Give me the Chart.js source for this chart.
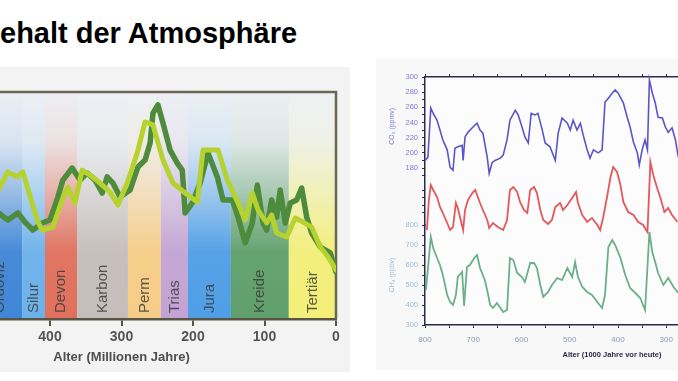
<!DOCTYPE html>
<html><head><meta charset="utf-8">
<script src="https://cdn.jsdelivr.net/npm/chart.js@4"></script>
<style>
html,body{margin:0;padding:0;width:678px;height:381px;overflow:hidden;background:#fff;font-family:"Liberation Sans",Arial,sans-serif;}
#title{position:absolute;left:0;top:17px;font-weight:bold;font-size:29px;line-height:32px;color:#000;white-space:nowrap;}
#leftbg{position:absolute;left:0;top:67px;width:350px;height:305px;background:#f3f3f3;}
#rightbg{position:absolute;left:376px;top:58px;width:302px;height:312px;background:#f8f8f8;}
#lwrap{position:absolute;left:-93px;top:90px;width:435px;height:281px;}
#rwrap{position:absolute;left:385px;top:71px;width:419px;height:299px;}
</style></head>
<body>
<div id="title">ehalt der Atmosphäre</div>
<div id="leftbg"></div>
<div id="rightbg"></div>
<div id="lwrap"><canvas id="left"></canvas></div>
<div id="rwrap"><canvas id="right"></canvas></div>
<script>
// ---- Left chart data (Alter in Mio. Jahren) ----
const periodNames = ['Ordoviz','Silur','Devon','Karbon','Perm','Trias','Jura','Kreide','Tertiär'];
const periodStart = [500,439,407,362,291,245,207,147,66];
const periodEnd   = [439,407,362,291,245,207,147,66,0];
const periodColors = ['#3f86d6','#6cb1ea','#e0705c','#c4beba','#f6cd86','#c3a3d3','#4f9ee6','#5f9f6b','#f3ef78'];

const yellowAge = [472,459,446,438,425,418,411,396,383,375,365,355,344,330,316,305,292,278,267,256,242,228,211,194,186,165,152,137,127,117,109,97,90,83,69,57,46,34,22,11,0];
const yellowVal = [56.8,64.8,62.6,64.8,51.1,43.6,39.2,40.5,52.4,58.1,51.1,65.6,63.4,59.9,55.9,50.2,59.9,73.1,86.8,85.5,70.0,59.9,55.5,51.5,74.4,74.4,61.2,51.1,43.6,55.5,48.0,42.3,45.8,37.9,36.1,44.5,42.7,40.5,31.7,27.3,21.6];
const greenAge = [472,459,445,435,424,411,400,389,382,369,358,348,337,327,320,312,302,288,277,267,260,256,249,242,232,222,215,211,201,190,179,166,158,145,137,127,117,110,102,97,90,83,78,71,64,55,48,41,34,22,8,0];
const greenVal = [46.7,43.6,46.7,42.7,39.2,42.3,43.6,53.7,61.2,66.5,61.2,64.3,61.2,55.5,62.6,59.9,53.7,56.8,67.0,70.0,77.5,90.7,94.3,86.3,74.4,68.7,65.6,46.7,51.1,59.9,73.1,62.6,52.4,52.4,44.9,33.5,42.3,59.0,42.3,39.2,52.4,44.9,56.8,42.3,51.1,52.4,57.7,44.9,37.9,31.7,29.1,20.7];
const leftTicks = [0,100,200,300,400,500,600];

// ---- Right chart data (Alter in 1000 Jahren) ----
const co2Age = [800,794,788,783,775,769,763,754,748,742,738,732,723,721,717,711,702,696,692,686,680,671,667,661,655,644,638,630,624,613,607,599,593,586,580,572,566,557,551,541,530,524,516,505,499,493,485,478,472,464,458,451,441,433,427,420,412,406,400,389,381,375,368,360,356,350,344,339,335,329,323,317,308,302,296,288,281,275];
const co2 = [190,194,259,252,243,230,217,204,181,177,206,208,210,190,221,227,233,237,239,230,226,194,173,187,190,193,197,217,243,256,250,234,221,213,252,250,252,230,213,208,190,226,246,239,230,243,230,239,223,204,193,204,200,204,267,272,279,283,279,266,247,234,214,200,184,204,217,204,296,279,266,247,246,234,227,233,217,194];
const tempAge = [796,792,788,783,775,769,763,754,748,742,736,732,727,721,717,711,702,696,692,686,680,671,667,659,649,638,630,624,617,609,603,595,588,582,574,568,561,555,545,537,530,520,514,505,495,487,483,474,464,454,443,437,431,422,416,410,402,395,389,379,368,358,348,339,333,327,319,312,304,296,288,277];
const temp = [-8.0,-2.0,1.0,0.0,-1.4,-3.4,-4.6,-6.6,-8.0,-7.4,-2.6,-3.6,-5.6,-8.0,-4.0,-2.0,-0.6,0.0,-1.0,-2.6,-4.0,-6.0,-7.6,-6.6,-7.4,-8.0,-6.0,0.0,0.6,-0.4,-2.4,-4.0,-4.6,0.0,0.6,-0.6,-4.0,-6.0,-6.8,-6.0,-3.4,-2.6,-4.0,-3.0,-1.6,-0.4,-2.6,-5.0,-6.4,-5.6,-7.0,-8.0,-5.6,-1.0,2.4,4.6,3.6,1.0,-2.4,-4.4,-5.0,-6.4,-7.0,-8.4,5.6,3.0,0.4,-1.6,-4.4,-3.6,-5.0,-6.4];
const ch4Age = [798,788,783,775,769,763,754,748,742,736,732,723,719,713,707,698,692,686,676,669,665,659,651,638,630,624,617,609,599,593,582,574,568,561,555,545,537,526,516,505,495,489,483,474,464,454,443,433,427,420,412,406,395,385,375,364,354,344,335,329,323,317,306,296,285,275];
const ch4 = [475,740,685,635,600,550,450,415,400,450,540,565,395,590,600,635,650,585,525,450,400,385,410,365,375,635,625,560,540,515,610,610,585,500,440,465,500,535,525,585,540,615,540,490,465,450,415,385,450,690,725,700,635,550,485,460,435,375,765,665,615,560,500,535,490,460];

const FAM = '"Liberation Sans", Arial, sans-serif';
function pts(a, v) { return a.map((x, i) => ({x: x, y: v[i]})); }
function rgba(hex, a) {
  const n = parseInt(hex.slice(1), 16);
  return 'rgba(' + (n >> 16 & 255) + ',' + (n >> 8 & 255) + ',' + (n & 255) + ',' + a + ')';
}

const bandPlugin = {
  id: 'bands',
  beforeDraw(chart) {
    const {ctx, chartArea: a, scales: {x}} = chart;
    ctx.save();
    ctx.fillStyle = '#eef1f5';
    ctx.fillRect(a.left, a.top, a.width, a.height);
    periodNames.forEach((name, i) => {
      const x0 = x.getPixelForValue(periodStart[i]);
      const x1 = x.getPixelForValue(periodEnd[i]);
      const g = ctx.createLinearGradient(0, a.bottom, 0, a.top);
      const c = periodColors[i];
      g.addColorStop(0, rgba(c, 1));
      g.addColorStop(0.3, rgba(c, 0.95));
      g.addColorStop(0.55, rgba(c, 0.5));
      g.addColorStop(0.78, rgba(c, 0.12));
      g.addColorStop(1, rgba(c, 0.02));
      ctx.fillStyle = g;
      ctx.fillRect(x0, a.top, x1 - x0, a.height);
    });
    periodNames.forEach((name, i) => {
      const xc = (x.getPixelForValue(periodStart[i]) + x.getPixelForValue(periodEnd[i])) / 2;
      ctx.save();
      ctx.translate(xc, a.bottom - 6);
      ctx.rotate(-Math.PI / 2);
      ctx.font = '15px ' + FAM;
      ctx.fillStyle = 'rgba(60,60,60,0.85)';
      ctx.textAlign = 'left';
      ctx.textBaseline = 'middle';
      ctx.fillText(name, 0, 0);
      ctx.restore();
    });
    ctx.restore();
  },
  beforeDatasetsDraw(chart) {
    const {ctx, chartArea: a} = chart;
    ctx.save();
    ctx.strokeStyle = '#6b6656';
    ctx.lineWidth = 2.5;
    ctx.beginPath();
    ctx.moveTo(a.left, a.top);
    ctx.lineTo(a.right, a.top);
    ctx.lineTo(a.right, a.bottom);
    ctx.stroke();
    ctx.restore();
  }
};

new Chart(document.getElementById('left'), {
  type: 'line',
  data: {
    datasets: [
      {label: 'B', data: pts(yellowAge, yellowVal), borderColor: '#b6d22f', borderWidth: 5, pointRadius: 0, tension: 0, borderJoinStyle: 'round', borderCapStyle: 'round'},
      {label: 'A', data: pts(greenAge, greenVal), borderColor: '#4e8b3c', borderWidth: 5.5, pointRadius: 0, tension: 0, borderJoinStyle: 'round', borderCapStyle: 'round'}
    ]
  },
  options: {
    responsive: true, maintainAspectRatio: false, animation: false,
    layout: {padding: {top: 2, right: 6, left: 0, bottom: 0}},
    plugins: {legend: {display: false}, tooltip: {enabled: false}},
    scales: {
      x: {
        type: 'linear', reverse: true, min: 0, max: 600,
        afterBuildTicks: s => { s.ticks = leftTicks.map(v => ({value: v})); },
        afterFit: s => { s.height = 52; s.paddingLeft = 0; s.paddingRight = 0; },
        border: {color: '#5a5444', width: 2.5},
        grid: {drawOnChartArea: false, tickLength: 7, color: '#5a5444', lineWidth: 2},
        ticks: {autoSkip: false, maxRotation: 0, padding: 3, color: '#555', font: {size: 14, weight: 'bold', family: FAM}},
        title: {display: true, text: 'Alter (Millionen Jahre)', color: '#4e4e4e', font: {size: 13, weight: 'bold', family: FAM}, padding: {top: 0, bottom: 6}}
      },
      y: {display: false, min: 0, max: 100}
    }
  },
  plugins: [bandPlugin]
});

const AX = '#2a2a48';
const rightBg = {
  id: 'rbg',
  beforeDraw(chart) {
    const {ctx, chartArea: a} = chart;
    ctx.save();
    ctx.fillStyle = '#fcfcfd';
    ctx.fillRect(a.left, a.top, a.width, a.height);
    ctx.restore();
  }
};
function yAxis(weight, min, max, step, color, labelFn, title) {
  return {
    type: 'linear', position: 'left', stack: 'st', stackWeight: weight, min: min, max: max,
    afterFit: s => { s.width = 40; s.paddingTop = 0; s.paddingBottom = 0; },
    border: {color: AX, width: 1.5},
    grid: {drawOnChartArea: false, tickLength: 3, color: AX, lineWidth: 1},
    ticks: {stepSize: step, autoSkip: false, padding: 4, color: color, font: {size: 7.5, family: FAM}, callback: labelFn},
    title: title ? {display: true, text: title, color: color, font: {size: 7, family: FAM}, padding: {top: 3, bottom: 0}} : {display: false}
  };
}

new Chart(document.getElementById('right'), {
  type: 'line',
  data: {
    datasets: [
      {label: 'CO2', data: pts(co2Age, co2), yAxisID: 'yCO2', clip: false, borderColor: '#5b55c8', borderWidth: 1.6, pointRadius: 0, tension: 0},
      {label: 'T', data: pts(tempAge, temp), yAxisID: 'yT', clip: false, borderColor: '#e4575a', borderWidth: 1.8, pointRadius: 0, tension: 0},
      {label: 'CH4', data: pts(ch4Age, ch4), yAxisID: 'yCH4', clip: false, borderColor: '#6bb08a', borderWidth: 1.8, pointRadius: 0, tension: 0}
    ]
  },
  options: {
    responsive: true, maintainAspectRatio: false, animation: false,
    layout: {padding: {top: 0, right: 5, left: 0, bottom: 0}},
    plugins: {legend: {display: false}, tooltip: {enabled: false}},
    scales: {
      x: {
        type: 'linear', reverse: true, min: 25, max: 800, position: 'bottom',
        afterFit: s => { s.height = 45; s.paddingLeft = 0; s.paddingRight = 0; },
        border: {color: AX, width: 1.5},
        grid: {drawOnChartArea: false, tickLength: 3, color: AX, lineWidth: 1},
        ticks: {stepSize: 50, autoSkip: false, maxRotation: 0, padding: 7, color: '#8d9bb5', font: {size: 8, family: FAM}, callback: v => (v % 100 === 0 ? v : '')},
        title: {display: true, text: 'Alter (1000 Jahre vor heute)', color: '#2a2a4a', font: {size: 7.5, weight: 'bold', family: FAM}, padding: {top: 0, bottom: 11}}
      },
      x2: {
        type: 'linear', reverse: true, min: 25, max: 800, position: 'top',
        afterFit: s => { s.height = 6; s.paddingLeft = 0; s.paddingRight = 0; },
        border: {color: AX, width: 1.5},
        grid: {drawOnChartArea: false, tickLength: 3, color: AX, lineWidth: 1},
        ticks: {stepSize: 50, display: false}
      },
      yCH4: yAxis(100, 300, 800, 50, '#9fbfd6', v => (v % 100 === 0 ? v : ''), 'CH₄ (ppbv)'),
      yT: yAxis(49.4, -7, 2.88, 1.5, '#e4575a', v => '', null),
      yCO2: yAxis(98.6, 170, 300, 10, '#7d7ad6', v => (v % 20 === 0 && v >= 180 ? v : ''), 'CO₂ (ppmv)')
    }
  },
  plugins: [rightBg]
});
</script>
</body></html>
